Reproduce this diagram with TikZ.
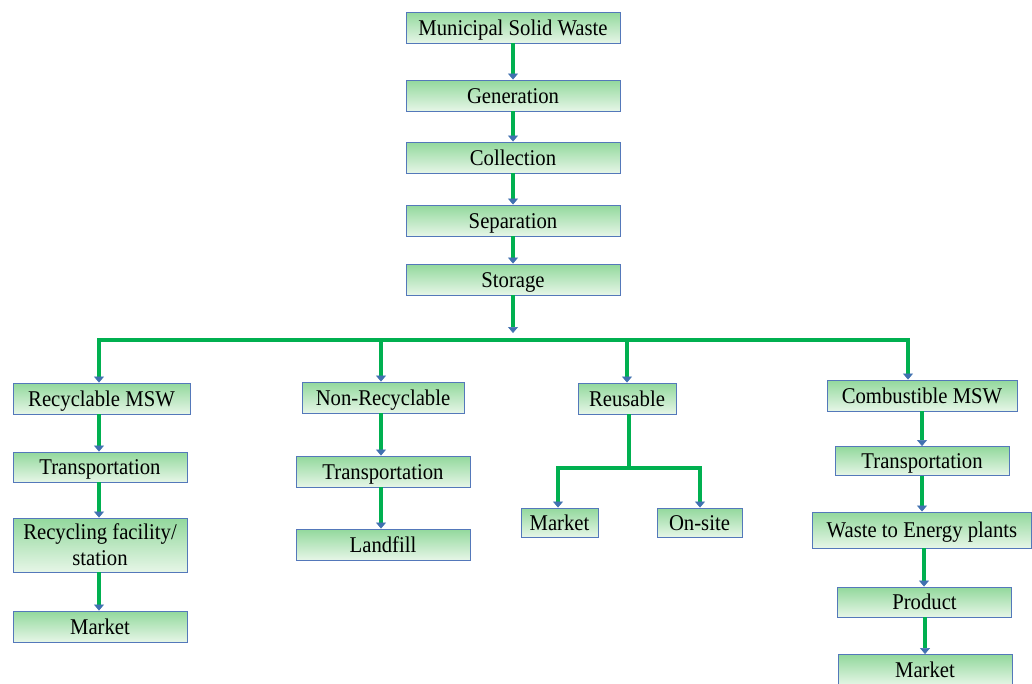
\documentclass[tikz,border=0pt]{standalone}
\usepackage{fontspec}
\setmainfont{Liberation Serif}[FakeStretch=0.92]
\usetikzlibrary{arrows.meta}
\definecolor{boxtop}{RGB}{146,216,156}
\definecolor{boxbot}{RGB}{230,246,231}
\definecolor{boxline}{RGB}{84,120,186}
\definecolor{lgreen}{RGB}{0,176,80}
\definecolor{lblue}{RGB}{65,113,176}
\tikzset{
  stepbox/.style={draw=boxline, line width=0.9pt, top color=boxtop, bottom color=boxbot,
    inner sep=0pt, align=center, font=\fontsize{22.5}{24}\selectfont},
  oneline/.style={text height=15pt, text depth=0pt},
  flow/.style={draw=lblue, line width=0.6pt, double=lgreen, double distance=3.2pt,
    -{Triangle[length=6pt,width=10pt,fill=lblue]}},
  bar/.style={draw=lgreen, line width=4.5pt},
  branch/.style={draw=lgreen, line width=4pt},
}
\newcommand{\bx}[6]{\node[stepbox, oneline, minimum width=#4pt, minimum height=#5pt] (#1) at (#2,#3) {#6};}
\begin{document}
\begin{tikzpicture}[x=1pt,y=-1pt]
\useasboundingbox[fill=white] (0,0) rectangle (1032,683);
% top column
\bx{msw}{513}{27.5}{214}{31}{Municipal Solid Waste}
\bx{gen}{513}{95.5}{214}{31}{Generation}
\bx{col}{513}{157.5}{214}{31}{Collection}
\bx{sep}{513}{220.5}{214}{31}{Separation}
\bx{sto}{513}{279.5}{214}{31}{Storage}
% left column
\bx{rec}{101.5}{398.5}{177}{31}{Recyclable MSW}
\bx{trl}{100}{467}{174}{30}{Transportation}
\node[stepbox, minimum width=174pt, minimum height=54pt] (rfs) at (100,545) {Recycling facility/\\[2pt]station};
\bx{mkl}{100}{626.5}{174}{31}{Market}
% middle column
\bx{nrc}{383}{397.5}{162}{31}{Non-Recyclable}
\bx{trm}{383}{471.5}{174}{31}{Transportation}
\bx{lnd}{383}{544.5}{174}{31}{Landfill}
% reusable
\bx{reu}{627}{398.5}{98}{31}{Reusable}
\bx{mkm}{559.5}{522.5}{77}{29}{Market}
\bx{ons}{699.5}{522.5}{85}{29}{On-site}
% right column
\bx{cmb}{922}{395.5}{190}{31}{Combustible MSW}
\bx{trr}{922}{461}{174}{29}{Transportation}
\bx{wte}{922}{530}{219}{36}{Waste to Energy plants}
\bx{prd}{924.5}{602}{174}{30}{Product}
\bx{mkr}{925}{670}{174}{31}{Market}
% connectors top
\draw[flow] (msw.south) -- (gen.north);
\draw[flow] (gen.south) -- (col.north);
\draw[flow] (col.south) -- (sep.north);
\draw[flow] (sep.south) -- (sto.north);
\coordinate (bst) at (513,333);
\draw[flow] (sto.south) -- (bst);
% bar
\coordinate (bl) at (97,340);
\coordinate (br) at (910,340);
\draw[bar] (bl) -- (br);
\coordinate (b1) at (99,340);
\coordinate (b2) at (381,340);
\coordinate (b3) at (627,340);
\coordinate (b4) at (908,340);
\draw[flow] (b1) -- (b1 |- rec.north);
\draw[flow] (b2) -- (b2 |- nrc.north);
\draw[flow] (b3) -- (b3 |- reu.north);
\draw[flow] (b4) -- (b4 |- cmb.north);
% left
\draw[flow] (rec.south -| b1) -- (b1 |- trl.north);
\draw[flow] (trl.south -| b1) -- (b1 |- rfs.north);
\draw[flow] (rfs.south -| b1) -- (b1 |- mkl.north);
% middle
\draw[flow] (nrc.south -| b2) -- (b2 |- trm.north);
\draw[flow] (trm.south -| b2) -- (b2 |- lnd.north);
% reusable branch
\coordinate (rj) at (629,468);
\coordinate (rl) at (558,468);
\coordinate (rr) at (700,468);
\draw[branch] (reu.south -| rj) -- (rj);
\draw[branch] ([xshift=-2pt]rl) -- ([xshift=2pt]rr);
\draw[flow] (rl) -- (rl |- mkm.north);
\draw[flow] (rr) -- (rr |- ons.north);
% right
\coordinate (c1) at (922,0);
\coordinate (c2) at (924,0);
\coordinate (c3) at (925,0);
\draw[flow] (cmb.south -| c1) -- (c1 |- trr.north);
\draw[flow] (trr.south -| c1) -- (c1 |- wte.north);
\draw[flow] (wte.south -| c2) -- (c2 |- prd.north);
\draw[flow] (prd.south -| c3) -- (c3 |- mkr.north);
\end{tikzpicture}
\end{document}
